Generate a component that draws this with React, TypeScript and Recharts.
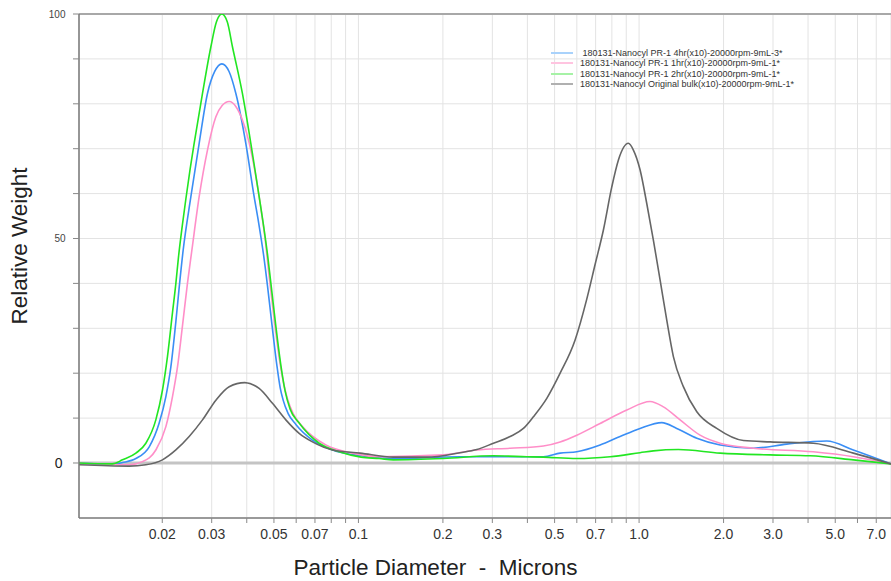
import { CartesianGrid, Legend, Line, LineChart, ReferenceLine, XAxis, YAxis } from "recharts"

const FONT = "Arial, 'Liberation Sans', sans-serif"

// log-scale diameter ticks (microns); empty label = tick mark only
const xTicks = [0.02, 0.03, 0.04, 0.05, 0.06, 0.07, 0.08, 0.09, 0.1, 0.2, 0.3, 0.4, 0.5, 0.6, 0.7, 0.8, 0.9, 1, 2, 3, 4, 5, 6, 7]
const xTickLabels = ["0.02", "0.03", "", "0.05", "", "0.07", "", "", "0.1", "0.2", "0.3", "", "0.5", "", "0.7", "", "", "1.0", "2.0", "3.0", "", "5.0", "", "7.0"]

const yTicks = [0, 10, 20, 30, 40, 50, 60, 70, 80, 90, 100]
const yTickLabels = ["0", "", "", "", "", "50", "", "", "", "", "100"]

// 180131-Nanocyl PR-1 4hr
const diam4hr = [0.0101, 0.01327, 0.01443, 0.01611, 0.01797, 0.0195, 0.0206, 0.02146, 0.02236, 0.02297, 0.02374, 0.02529, 0.02707, 0.02898, 0.03075, 0.03261, 0.03459, 0.03658, 0.03969, 0.0425, 0.0441, 0.04588, 0.04741, 0.04915, 0.0512, 0.05261, 0.05392, 0.05618, 0.05984, 0.06857, 0.08082, 0.1022, 0.1333, 0.2303, 0.3471, 0.4561, 0.5232, 0.5999, 0.7263, 0.8557, 1.008, 1.205, 1.362, 1.606, 1.944, 2.554, 3.359, 4.664, 5.8, 7.9]
const weight4hr = [0.0, -0.3, 0.1, 1.0, 3.6, 8.9, 14.8, 21.4, 31.5, 39.0, 47.4, 59.3, 71.2, 82.3, 87.2, 88.9, 87.2, 82.3, 71.2, 59.3, 53.5, 46.5, 39.5, 31.0, 21.8, 16.8, 14.0, 11.0, 8.6, 5.1, 2.9, 1.6, 1.0, 1.4, 1.4, 1.4, 2.2, 2.5, 4.0, 5.9, 7.7, 9.0, 7.7, 5.5, 4.0, 3.3, 4.2, 4.9, 2.9, -0.2]

// 180131-Nanocyl PR-1 1hr
const diam1hr = [0.0101, 0.01524, 0.017, 0.01897, 0.0206, 0.02175, 0.02266, 0.0236, 0.02459, 0.0255, 0.02707, 0.02898, 0.03105, 0.03269, 0.03463, 0.03667, 0.0386, 0.04136, 0.04428, 0.04679, 0.04808, 0.05009, 0.05261, 0.05435, 0.05585, 0.05853, 0.06317, 0.07654, 0.09519, 0.1185, 0.2009, 0.2641, 0.3471, 0.4561, 0.5232, 0.5999, 0.7263, 0.9042, 1.094, 1.221, 1.4, 1.649, 1.944, 2.554, 4.178, 5.8, 7.9]
const weight1hr = [0.0, -0.4, 0.3, 2.9, 8.1, 14.8, 21.4, 30.5, 40, 47.4, 59.3, 69.7, 77.1, 79.6, 80.5, 79.3, 76.4, 69.7, 59.3, 48.5, 41.5, 32.0, 22.0, 17.2, 14.3, 11.0, 8.1, 4.0, 2.2, 1.4, 1.8, 2.9, 3.3, 3.8, 4.7, 6.2, 8.8, 11.8, 13.7, 12.5, 9.6, 6.2, 4.4, 3.3, 2.5, 1.4, -0.2]

// 180131-Nanocyl PR-1 2hr
const diam2hr = [0.0101, 0.01327, 0.01443, 0.01611, 0.01748, 0.01897, 0.02003, 0.02087, 0.02175, 0.02236, 0.02284, 0.02354, 0.02427, 0.02514, 0.02598, 0.02782, 0.0298, 0.03118, 0.03261, 0.03411, 0.03557, 0.0386, 0.04136, 0.04428, 0.04576, 0.04741, 0.04907, 0.05078, 0.05291, 0.05481, 0.0571, 0.06149, 0.07244, 0.08538, 0.1022, 0.1185, 0.1333, 0.2009, 0.3027, 0.398, 0.4561, 0.5999, 0.7884, 1.008, 1.124, 1.38, 1.944, 2.929, 4.066, 5.8, 7.9]
const weight2hr = [0.0, -0.2, 0.7, 2.2, 4.4, 9.6, 16.2, 23.7, 33.5, 40.0, 45.8, 52.6, 58.8, 65.5, 71.2, 82.3, 92.7, 98.2, 100, 98.2, 92.7, 82.3, 71.2, 59.3, 53.5, 46.5, 38.5, 30.5, 21.8, 16.0, 12.0, 8.9, 4.4, 2.5, 1.3, 1.0, 0.7, 1.0, 1.6, 1.4, 1.3, 1.0, 1.4, 2.3, 2.7, 3.0, 2.2, 1.8, 1.6, 0.7, -0.2]

// 180131-Nanocyl Original bulk
const diamBulk = [0.0101, 0.01524, 0.01748, 0.02003, 0.02236, 0.02494, 0.02782, 0.03105, 0.03463, 0.03937, 0.04428, 0.04939, 0.05512, 0.06149, 0.06857, 0.08082, 0.1014, 0.1333, 0.1752, 0.2303, 0.2641, 0.3027, 0.3471, 0.3871, 0.4201, 0.469, 0.5232, 0.5916, 0.651, 0.697, 0.7462, 0.7994, 0.8441, 0.9159, 0.9543, 1.008, 1.065, 1.124, 1.188, 1.255, 1.325, 1.438, 1.606, 1.891, 2.353, 2.929, 4.178, 5.8, 7.9]
const weightBulk = [-0.4, -0.7, -0.4, 0.7, 2.9, 5.9, 9.6, 14.0, 17.0, 17.9, 16.6, 13.3, 9.6, 6.6, 4.7, 2.9, 2.2, 1.3, 1.3, 2.3, 3.0, 4.4, 5.9, 7.7, 10.3, 14.4, 20, 27.4, 36.5, 44.2, 51.9, 61.5, 67.5, 71.2, 69.7, 65.3, 57.8, 49.7, 40.8, 31.8, 23.7, 17.0, 11.4, 7.7, 5.0, 4.7, 4.4, 2.2, -0.2]

const toPoints = (d: number[], w: number[]) => d.map((x, i) => ({ d: x, w: w[i] }))

const series = [
  { name: " 180131-Nanocyl PR-1 4hr(x10)-20000rpm-9mL-3*", color: "#3a8ef5", swatch: "#a9d2fb", data: toPoints(diam4hr, weight4hr) },
  { name: "180131-Nanocyl PR-1 1hr(x10)-20000rpm-9mL-1*", color: "#ff8ec8", swatch: "#ffc4e0", data: toPoints(diam1hr, weight1hr) },
  { name: "180131-Nanocyl PR-1 2hr(x10)-20000rpm-9mL-1*", color: "#22e622", swatch: "#a6f2a6", data: toPoints(diam2hr, weight2hr) },
  { name: "180131-Nanocyl Original bulk(x10)-20000rpm-9mL-1*", color: "#666666", swatch: "#b0b0b0", data: toPoints(diamBulk, weightBulk) },
]

const XTick = (props: any) => {
  const { x, y, payload } = props
  const label = xTickLabels[xTicks.indexOf(payload.value)]
  if (!label) return null
  return (
    <text x={x} y={y + 13.5} textAnchor="middle" fontSize={14} fill="#333" fontFamily={FONT}>
      {label}
    </text>
  )
}

const YTick = (props: any) => {
  const { x, y, payload } = props
  const label = yTickLabels[yTicks.indexOf(payload.value)]
  if (!label) return null
  const big = label === "0"
  return (
    <text
      x={big ? x - 8.5 : x - 5.5}
      y={big ? y + 5 : y + 3.6}
      textAnchor="end"
      fontSize={big ? 14 : 10}
      fill={big ? "#222" : "#444"}
      fontFamily={FONT}
    >
      {label}
    </text>
  )
}

const LegendBox = () => (
  <div style={{ fontFamily: FONT, fontSize: 9, color: "#333" }}>
    {series.map((s) => (
      <div key={s.name} style={{ display: "flex", alignItems: "center", height: 10.5 }}>
        <div style={{ width: 22, height: 2, background: s.swatch, marginRight: 7 }} />
        <span style={{ whiteSpace: "pre" }}>{s.name}</span>
      </div>
    ))}
  </div>
)

export default function App() {
  return (
    <div style={{ position: "absolute", left: 0, top: 0, width: 891, height: 581, background: "#fff" }}>
      <LineChart width={891} height={581} margin={{ top: 14, right: 0, bottom: 0, left: 0 }}>
        <CartesianGrid stroke="#e3e3e3" strokeWidth={1} />
        <XAxis
          dataKey="d"
          type="number"
          scale="log"
          domain={[0.0101, 7.9]}
          allowDataOverflow
          ticks={xTicks}
          interval={0}
          height={63}
          tick={<XTick />}
          tickSize={5}
          tickLine={{ stroke: "#888" }}
          axisLine={{ stroke: "#9a9a9a", strokeWidth: 2 }}
          label={{
            content: () => (
              <text x={435.5} y={575} textAnchor="middle" fontSize={22.5} fill="#222" fontFamily={FONT} style={{ whiteSpace: "pre" }}>
                {"Particle Diameter  -  Microns"}
              </text>
            ),
          }}
        />
        <YAxis
          type="number"
          domain={[-12.25, 100]}
          allowDataOverflow
          ticks={yTicks}
          interval={0}
          width={79}
          tick={<YTick />}
          tickSize={6}
          tickLine={{ stroke: "#888" }}
          axisLine={{ stroke: "#777", strokeWidth: 1.5 }}
          label={{
            content: () => (
              <text x={27} y={246} textAnchor="middle" fontSize={22.5} fill="#222" fontFamily={FONT} transform="rotate(-90 27 246)">
                Relative Weight
              </text>
            ),
          }}
        />
        <ReferenceLine y={0} stroke="#c4c4c4" strokeWidth={3} />
        <ReferenceLine y={100} stroke="#a8a8a8" strokeWidth={2} />
        <Legend
          layout="vertical"
          align="center"
          verticalAlign="middle"
          content={<LegendBox />}
          wrapperStyle={{ left: 551, top: 47.5, width: 320 }}
        />
        {series.map((s) => (
          <Line
            key={s.name}
            data={s.data}
            dataKey="w"
            name={s.name}
            type="monotone"
            stroke={s.color}
            strokeWidth={1.6}
            dot={false}
            activeDot={false}
            isAnimationActive={false}
          />
        ))}
      </LineChart>
    </div>
  )
}
